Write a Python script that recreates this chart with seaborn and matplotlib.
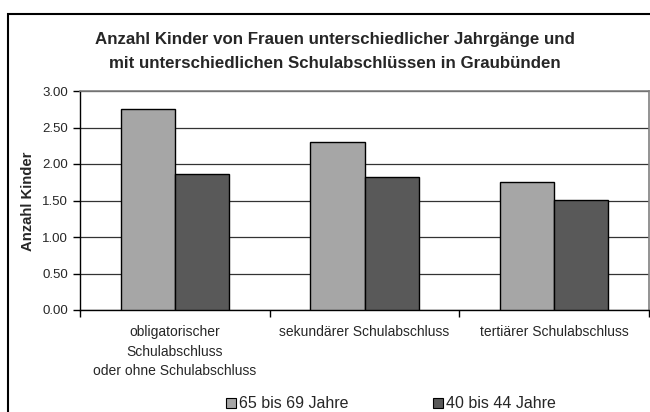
import pandas as pd
import numpy as np
import matplotlib.pyplot as plt
import seaborn as sns
from matplotlib.patches import Rectangle

# Daten
kategorien = ['obligatorischer\nSchulabschluss\noder ohne Schulabschluss',
              'sekundärer Schulabschluss',
              'tertiärer Schulabschluss']
jahrgaenge = ['65 bis 69 Jahre', '40 bis 44 Jahre']
werte_65_69 = [2.76, 2.30, 1.76]
werte_40_44 = [1.86, 1.82, 1.51]
y_ticks = [0.0, 0.5, 1.0, 1.5, 2.0, 2.5, 3.0]

df = pd.DataFrame({
    'Schulabschluss': kategorien * 2,
    'Jahrgang': [jahrgaenge[0]] * 3 + [jahrgaenge[1]] * 3,
    'Anzahl': werte_65_69 + werte_40_44,
})

sns.set_style('white')
plt.rcParams['font.family'] = ['Liberation Sans', 'DejaVu Sans']

farben = {jahrgaenge[0]: '#A6A6A6', jahrgaenge[1]: '#595959'}

fig = plt.figure(figsize=(6.5, 4.12), dpi=100)
ax = fig.add_axes([80 / 650, 1 - 310 / 412, 569 / 650, 219 / 412])

sns.barplot(data=df, x='Schulabschluss', y='Anzahl', hue='Jahrgang',
            palette=farben, width=0.57, edgecolor='black', linewidth=1,
            saturation=1, legend=False, ax=ax, zorder=3)

ax.set_ylim(0, 3)
ax.set_yticks(y_ticks)
ax.set_yticklabels([f'{v:.2f}' for v in y_ticks], fontsize=9.5)
ax.yaxis.grid(True, color='#333333', linewidth=0.9, zorder=0)
ax.set_axisbelow(True)

# Kategorien: Striche zwischen den Gruppen, Beschriftung in der Mitte
ax.set_xlim(-0.5, 2.5)
ax.set_xticks([-0.5, 0.5, 1.5, 2.5])
ax.set_xticklabels([])
ax.set_xticks([0, 1, 2], minor=True)
ax.set_xticklabels(kategorien, minor=True, fontsize=10, linespacing=1.5,
                   va='top')
ax.tick_params(axis='x', which='minor', length=0, pad=11)
ax.tick_params(axis='x', which='major', length=5, width=1, color='black',
               direction='out', bottom=True)
ax.tick_params(axis='y', length=5, width=1, color='black', direction='out',
               left=True, pad=3.6)
ax.set_xlabel('')
ax.set_ylabel('')
fig.text(28 / 650, 1 - 201 / 412, 'Anzahl Kinder', rotation=90,
         ha='center', va='center', fontsize=10.7, fontweight='bold')

for s in ['left', 'bottom']:
    ax.spines[s].set_color('black')
    ax.spines[s].set_linewidth(1)
for s in ['top', 'right']:
    ax.spines[s].set_color('#808080')
    ax.spines[s].set_linewidth(1.2)

titel_x = 334.5 / 650
fig.text(titel_x, 1 - 44 / 412,
         'Anzahl Kinder von Frauen unterschiedlicher Jahrgänge und',
         ha='center', va='baseline', fontsize=12.2, fontweight='bold')
fig.text(titel_x, 1 - 67.5 / 412,
         'mit unterschiedlichen Schulabschlüssen in Graubünden',
         ha='center', va='baseline', fontsize=12.2, fontweight='bold')

# Legende unten
handles = [plt.Line2D([], [], marker='s', linestyle='', markersize=6.8,
                      markerfacecolor=farben[j], markeredgecolor='black',
                      markeredgewidth=0.8) for j in jahrgaenge]
fig.legend(handles, jahrgaenge, loc='center', bbox_to_anchor=(391 / 650, 1 - 404 / 412),
           ncol=2, frameon=False, fontsize=11.5, handlelength=0.6,
           handletextpad=0.22, columnspacing=5.3, borderpad=0)

# äusserer Rahmen
fig.patches.append(Rectangle((8 / 650, -0.1), 1.1, 1 - 14 / 412 + 0.1,
                             transform=fig.transFigure, fill=False,
                             edgecolor='black', linewidth=1.5, clip_on=False))

fig.savefig('out.png', dpi=100)
